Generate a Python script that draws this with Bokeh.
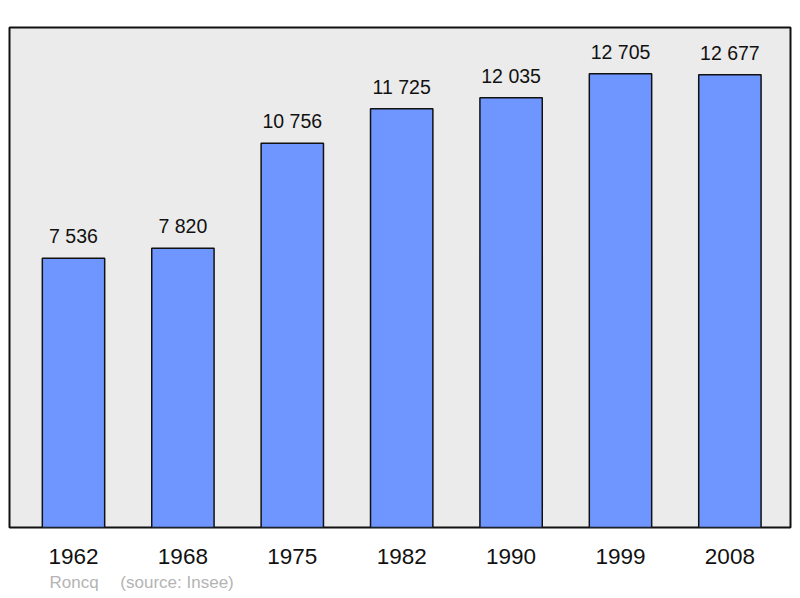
from bokeh.plotting import figure
from bokeh.models import ColumnDataSource, FixedTicker, Title, Range1d
from bokeh.core.properties import value
from bokeh.embed import file_html
from bokeh.resources import INLINE

years = ["1962", "1968", "1975", "1982", "1990", "1999", "2008"]
population = [7536, 7820, 10756, 11725, 12035, 12705, 12677]
labels = ["7 536", "7 820", "10 756", "11 725", "12 035", "12 705", "12 677"]
commune = "Roncq"
source_note = "(source: Insee)"

idx = list(range(len(years)))
src = ColumnDataSource(dict(x=idx, top=population, lab=labels))

p = figure(width=800, height=598, output_backend="svg", toolbar_location=None,
           x_range=Range1d(-0.585, 6.554), y_range=Range1d(0, 14000),
           y_axis_location=None, min_border_left=9, min_border_right=10,
           min_border_top=27, min_border_bottom=71)
p.border_fill_color = "white"
p.background_fill_color = "#ebebeb"
p.outline_line_color = "#111111"
p.outline_line_width = 2
p.xgrid.visible = False
p.ygrid.visible = False

p.vbar(x="x", top="top", width=0.57, bottom=0, source=src,
       fill_color="#6f96ff", line_color="#111111", line_width=1.5)
p.text(x="x", y="top", text="lab", source=src, y_offset=-22,
       text_align="center", text_baseline="alphabetic",
       text_font=value("Liberation Sans"), text_font_size="19.5px", text_color="#111111")

ax = p.xaxis[0]
ax.ticker = FixedTicker(ticks=idx)
ax.major_label_overrides = {i: y for i, y in zip(idx, years)}
ax.major_label_text_font = "Liberation Sans"
ax.major_label_text_font_size = "22.5px"
ax.major_label_text_color = "#111111"
ax.axis_line_color = None
ax.major_tick_line_color = None
ax.minor_tick_line_color = None
ax.major_tick_out = 0
ax.major_tick_in = 0
ax.major_label_standoff = 21

note = commune + "\u2003\u00a0" + source_note
p.add_layout(Title(text=note, align="left", offset=40, standoff=9,
                   vertical_align="bottom",
                   text_font="Liberation Sans", text_font_size="17px",
                   text_font_style="normal", text_color="#b4b4b4"), "below")

open("out.html", "w").write(file_html(p, INLINE))
